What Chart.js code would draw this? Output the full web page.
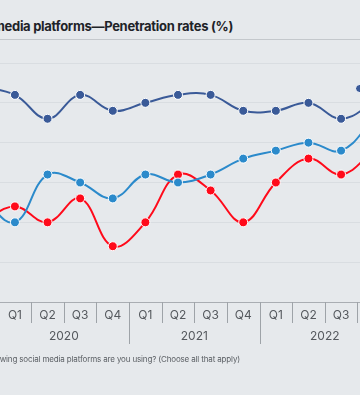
<!DOCTYPE html>
<html>
<head>
<meta charset="utf-8">
<script src="https://cdn.jsdelivr.net/npm/chart.js@4.4.1/dist/chart.umd.min.js"></script>
<style>
    html, body {
        margin: 0;
        padding: 0;
        width: 360px;
        height: 395px;
        overflow: hidden;
        background: #e6e9ec;
        font-family: Inter, "Noto Sans", sans-serif;
    }
    .title {
        position: absolute;
        right: 127px;
        top: 18px;
        white-space: nowrap;
        font-size: 13px;
        font-weight: 700;
        color: #1e2328;
        letter-spacing: -0.3px;
    }
    .rule {
        position: absolute;
        left: 0;
        top: 39px;
        width: 360px;
        height: 1px;
        background: #c4c8cc;
    }
    .note {
        position: absolute;
        right: 120px;
        top: 354px;
        white-space: nowrap;
        font-size: 8px;
        color: #5a5e63;
        letter-spacing: -0.15px;
    }
    .chart-box {
        position: absolute;
        left: -34px;
        top: 55px;
        width: 424px;
        height: 300px;
    }
    .legend {
        position: absolute;
        left: 355px;
        top: 80px;
        white-space: nowrap;
        font-size: 11px;
        color: #333;
    }
    .legend i {
        display: inline-block;
        width: 7px;
        height: 7px;
        border-radius: 50%;
        border: 1px solid #fff;
        background: #3a5a98;
        vertical-align: middle;
    }
</style>
</head>
<body>
<div class="title">Use of social media platforms—Penetration rates (%)</div>
<div class="rule"></div>
<div class="chart-box"><canvas id="chart"></canvas></div>
<div class="legend"><i></i> Facebook</div>
<div class="note">Question: Which of the following social media platforms are you using? (Choose all that apply)</div>
<script>
    const quarters = ["Q4", "Q1", "Q2", "Q3", "Q4", "Q1", "Q2", "Q3", "Q4", "Q1", "Q2", "Q3", "Q4"];
    const years = ["2019", "2020", "2020", "2020", "2020", "2021", "2021", "2021", "2021", "2022", "2022", "2022", "2022"];
    const facebook = [27, 26, 23, 26, 24, 25, 26, 26, 24, 24, 25, 23, 25];
    const twitter = [13, 10, 16, 15, 13, 16, 15, 16, 18, 19, 20, 19, 23];
    const youtube = [10, 12, 10, 13, 7, 10, 16, 14, 10, 15, 18, 16, 19];

    // quarter labels, separators and the year row under the x axis
    const periodAxis = {
        id: "periodAxis",
        afterDraw(chart) {
            const ctx = chart.ctx;
            const area = chart.chartArea;
            const xs = chart.scales.x;
            const step = area.width / quarters.length;
            ctx.save();
            ctx.strokeStyle = "#9ea3a8";
            ctx.lineWidth = 1;
            for (let i = 0; i <= quarters.length; i++) {
                const x = Math.round(area.left + i * step) + 0.5;
                const yearStart = i < quarters.length && quarters[i] === "Q1";
                ctx.beginPath();
                ctx.moveTo(x, area.bottom);
                ctx.lineTo(x, area.bottom + (yearStart ? 42 : 21));
                ctx.stroke();
            }
            ctx.fillStyle = "#55595e";
            ctx.font = "12px Inter, 'Noto Sans', sans-serif";
            ctx.textAlign = "center";
            ctx.textBaseline = "middle";
            quarters.forEach((q, i) => {
                ctx.fillText(q, xs.getPixelForValue(i), area.bottom + 13);
            });
            const seen = {};
            years.forEach((y, i) => {
                (seen[y] = seen[y] || []).push(xs.getPixelForValue(i));
            });
            Object.keys(seen).forEach(y => {
                const px = seen[y];
                const mid = (px[0] + px[px.length - 1]) / 2;
                ctx.fillText(y, mid, area.bottom + 34);
            });
            ctx.restore();
        }
    };

    const series = (label, data, color) => ({
        label,
        data,
        borderColor: color,
        backgroundColor: color,
        borderWidth: 2,
        pointRadius: 4.5,
        pointBorderColor: "#ffffff",
        pointBorderWidth: 1,
        pointBackgroundColor: color,
        tension: 0.4,
        clip: false
    });

    new Chart(document.getElementById("chart"), {
        type: "line",
        data: {
            labels: quarters,
            datasets: [
                series("Facebook", facebook, "#3a5a98"),
                series("Twitter", twitter, "#2b8acb"),
                series("YouTube", youtube, "#ff0a1a")
            ]
        },
        options: {
            responsive: true,
            maintainAspectRatio: false,
            animation: false,
            layout: { autoPadding: false, padding: { top: 8, left: 0, right: 0, bottom: 0 } },
            plugins: {
                legend: { display: false },
                tooltip: { enabled: false }
            },
            scales: {
                x: {
                    offset: true,
                    grid: { display: false, drawTicks: false },
                    border: { display: true, color: "#a9adb2", width: 1 },
                    ticks: { display: false },
                    afterFit: (scale) => { scale.height = 53; }
                },
                y: {
                    min: 0,
                    max: 30,
                    ticks: { display: false, stepSize: 5 },
                    border: { display: false },
                    grid: { color: "#d9dde1", lineWidth: 1, drawTicks: false },
                    afterFit: (scale) => { scale.width = 0; }
                }
            }
        },
        plugins: [periodAxis]
    });
</script>
</body>
</html>
